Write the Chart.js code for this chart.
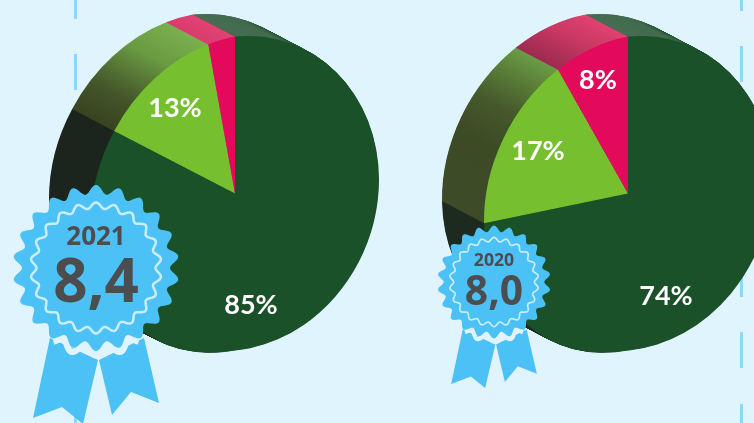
<!DOCTYPE html>
<html>
<head>
<meta charset="utf-8">
<style>
  html, body { margin: 0; padding: 0; background: #e0f4fd; overflow: hidden; }
  #page { position: relative; width: 754px; height: 423px; overflow: hidden; }
  canvas, svg { position: absolute; top: 0; }
  .dash {
    position: absolute; width: 3px; height: 460px;
    background: repeating-linear-gradient(to bottom, #8fd6f8 0, #8fd6f8 36px, transparent 36px, transparent 71.5px);
  }
</style>
<script src="https://cdn.jsdelivr.net/npm/chart.js@4"></script>
</head>
<body>
<div id="page">
  <div class="dash" style="left:74px;top:-17px"></div>
  <div class="dash" style="left:740px;top:-25px"></div>
  <canvas id="pie2021" width="379" height="423" style="left:0"></canvas>
  <canvas id="pie2020" width="354" height="423" style="left:400px"></canvas>
  <svg id="badges" width="754" height="423" viewBox="0 0 754 423"></svg>
</div>
<script>
const categories = ['dark', 'green', 'pink'];
const values2021 = [85, 13, 3];   // pink has no printed label, 3 is read off its size
const values2020 = [74, 17, 8];
const labelled2021 = [true, true, false];
const labelled2020 = [true, true, true];
const years = ['2021', '2020'];
const scores = ['8,4', '8,0'];

const faceColors = ['#1b5128', '#76bf2f', '#e30a5c'];
const depth = { x: -42, y: -22 };
// the round pie is squeezed and sheared into the tilted shape of the picture,
// the right half leans about half as much as the left
const tiltLeft = [144 / 158, -0.173, 0, 157 / 158];
const tiltRight = [144 / 158, -0.0865, 0, 157 / 158];

// rim shade by clockwise angle from the top, as fraction of the circle
const rim2021 = [
  [[0, '#456d52'], [0.05, '#416a4e'], [0.08, '#1b5128'], [0.6, '#1c241e'], [1, '#1c241e']],
  [[0.84, '#37421f'], [0.875, '#44562a'], [0.925, '#6a9a42'], [0.97, '#7ab04f']],
  [[0.97, '#d93b6e'], [1, '#e04272']]
];
const rim2020 = [
  [[0, '#456d52'], [0.05, '#416a4e'], [0.08, '#1b5128'], [0.6, '#1c2a20'], [1, '#1c2a20']],
  [[0.7475, '#3d4b29'], [0.82, '#3c4a25'], [0.86, '#46592b'], [0.919, '#6a9c44']],
  [[0.919, '#9c2a50'], [0.96, '#c93863'], [1, '#e04272']]
];

const labelShift2021 = [[16, 112], [-60, -85], [0, 0]];
const labelShift2020 = [[38, 103], [-90, -42], [-30, -113]];

function enterHalf(chart, ctx, cx, cy, right) {
  const t = right ? tiltRight : tiltLeft;
  ctx.beginPath();
  if (right) ctx.rect(cx, -100, chart.width + 200, chart.height + 200);
  else ctx.rect(-100, -100, cx + 100, chart.height + 200);
  ctx.clip();
  ctx.translate(cx, cy);
  ctx.transform(t[0], t[1], t[2], t[3], 0, 0);
  ctx.translate(-cx, -cy);
}

const pie3d = {
  id: 'pie3d',
  beforeDatasetsDraw(chart, args, opts) {
    const arcs = chart.getDatasetMeta(0).data;
    const { ctx } = chart;
    const cx = arcs[0].x, cy = arcs[0].y;
    const fills = opts.rim.map(stops => {
      const g = ctx.createConicGradient(-Math.PI / 2, cx, cy);
      stops.forEach(s => g.addColorStop(s[0], s[1]));
      return g;
    });
    const steps = 88;
    for (let i = steps; i > 0; i--) {
      const t = i / steps;
      [false, true].forEach(right => {
        ctx.save();
        ctx.translate(depth.x * t, depth.y * t);
        enterHalf(chart, ctx, cx, cy, right);
        arcs.forEach((arc, k) => {
          ctx.beginPath();
          ctx.moveTo(arc.x, arc.y);
          ctx.arc(arc.x, arc.y, arc.outerRadius, arc.startAngle, arc.endAngle);
          ctx.closePath();
          ctx.fillStyle = fills[k];
          ctx.fill();
        });
        ctx.restore();
      });
    }
    // the library draws the left half of the faces, afterDatasetsDraw does the right
    ctx.save();
    enterHalf(chart, ctx, cx, cy, false);
  },
  afterDatasetsDraw(chart, args, opts) {
    const { ctx } = chart;
    ctx.restore();
    const arcs = chart.getDatasetMeta(0).data;
    ctx.save();
    enterHalf(chart, ctx, arcs[0].x, arcs[0].y, true);
    arcs.forEach(arc => arc.draw(ctx));
    ctx.restore();

    const values = chart.data.datasets[0].data;
    ctx.save();
    ctx.fillStyle = '#fff';
    ctx.font = '700 27px Lato';
    ctx.textAlign = 'center';
    ctx.textBaseline = 'middle';
    values.forEach((v, k) => {
      if (opts.labelled[k]) ctx.fillText(v + '%', arcs[k].x + opts.shift[k][0], arcs[k].y + opts.shift[k][1]);
    });
    ctx.restore();
  }
};

function makePie(id, values, labelled, rim, shift, padLeft) {
  return new Chart(document.getElementById(id), {
    type: 'pie',
    data: {
      labels: categories,
      datasets: [{ data: values, backgroundColor: faceColors, borderWidth: 0 }]
    },
    options: {
      responsive: false,
      animation: false,
      radius: 158,
      layout: { padding: { left: padLeft, top: 35, bottom: 71 } },
      plugins: {
        legend: { display: false },
        tooltip: { enabled: false },
        pie3d: { rim: rim, labelled: labelled, shift: shift }
      }
    },
    plugins: [pie3d]
  });
}

makePie('pie2021', values2021, labelled2021, rim2021, labelShift2021, 91);
makePie('pie2020', values2020, labelled2020, rim2020, labelShift2020, 102);

// rosettes
function wavy(r, amp, from, to) {
  const pts = [];
  for (let a = from; a <= to; a += 0.5) {
    const th = a * Math.PI / 180;
    const rr = r + amp * Math.cos(22 * th);
    pts.push((rr * Math.sin(th)).toFixed(1) + ',' + (-rr * Math.cos(th)).toFixed(1));
  }
  return pts.join(' ');
}

function badge(x, y, s, year, score) {
  return `<g transform="translate(${x} ${y}) scale(${s})">
    <polygon fill="#4cc1f5" points="-46,70 2,92 -13,156 -34,139 -63,150"/>
    <polygon fill="#4cc1f5" points="3,92 48,70 63,135 35,124 16,147"/>
    <polyline fill="none" stroke="#e0f4fd" stroke-width="6" points="${wavy(83, 4.5, 150, 210)}"/>
    <polygon fill="#4cc1f5" points="${wavy(78.5, 4.5, 0, 359.5)}"/>
    <polygon fill="none" stroke="#c8edfc" stroke-width="2.5" points="${wavy(62.5, 3, 0, 359.5)}"/>
    <text x="0" y="-23" text-anchor="middle" font-family="Open Sans" font-weight="700" font-size="26" fill="#4d4d4f">${year}</text>
    <text x="0" y="34" text-anchor="middle" font-family="Open Sans" font-weight="700" font-size="60" fill="#4d4d4f">${score}</text>
  </g>`;
}

document.getElementById('badges').innerHTML =
  badge(96, 268, 1, years[0], scores[0]) + badge(494, 282, 0.68, years[1], scores[1]);
</script>
</body>
</html>
